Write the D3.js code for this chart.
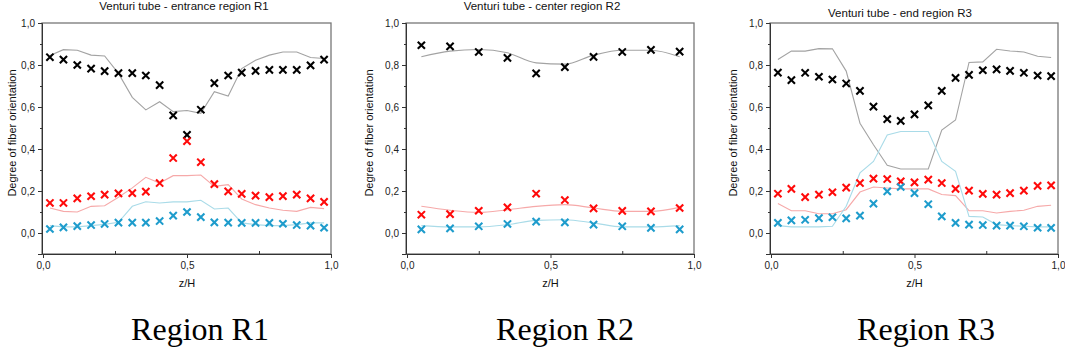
<!DOCTYPE html>
<html>
<head>
<meta charset="utf-8">
<script src="https://cdn.jsdelivr.net/npm/d3@7"></script>
<style>
  body { margin: 0; background: #fff; }
  svg { font-family: "Liberation Sans", Arial, sans-serif; }
  .tick text { font-size: 10px; fill: #222; }
  .label { font-size: 11px; fill: #111; }
  .title { font-size: 11.5px; fill: #111; }
  .region { font-family: "Liberation Serif", "Times New Roman", serif; font-size: 32px; fill: #000; }
</style>
</head>
<body>
<div id="chart"></div>
<script>
// degree of fiber orientation along the venturi tube, three regions

const zH21 = [0.024, 0.071, 0.119, 0.167, 0.214, 0.262, 0.310, 0.357, 0.405, 0.452, 0.500,
  0.548, 0.595, 0.643, 0.690, 0.738, 0.786, 0.833, 0.881, 0.929, 0.976];
const zH10 = [0.05, 0.15, 0.25, 0.35, 0.45, 0.55, 0.65, 0.75, 0.85, 0.95];

// region R1
const r1Black = [0.837, 0.826, 0.800, 0.783, 0.771, 0.761, 0.761, 0.750, 0.704, 0.560, 0.467,
  0.587, 0.714, 0.750, 0.764, 0.772, 0.777, 0.777, 0.777, 0.798, 0.826];
const r1BlackLine = [0.845, 0.873, 0.870, 0.847, 0.843, 0.760, 0.646, 0.586, 0.625, 0.578, 0.583,
  0.570, 0.673, 0.652, 0.783, 0.823, 0.847, 0.862, 0.862, 0.836, 0.831];
const r1Red = [0.143, 0.143, 0.165, 0.175, 0.183, 0.189, 0.190, 0.197, 0.238, 0.357, 0.437,
  0.337, 0.233, 0.198, 0.186, 0.178, 0.171, 0.176, 0.183, 0.165, 0.148];
const r1RedLine = [0.119, 0.103, 0.100, 0.127, 0.130, 0.170, 0.215, 0.265, 0.238, 0.273, 0.273,
  0.276, 0.222, 0.230, 0.162, 0.135, 0.119, 0.108, 0.103, 0.122, 0.116];
const r1Blue = [0.019, 0.027, 0.033, 0.038, 0.043, 0.049, 0.049, 0.049, 0.057, 0.083, 0.100,
  0.076, 0.051, 0.049, 0.048, 0.048, 0.048, 0.044, 0.038, 0.035, 0.025];
const r1BlueLine = [0.035, 0.029, 0.029, 0.035, 0.041, 0.051, 0.127, 0.149, 0.143, 0.148, 0.148,
  0.156, 0.114, 0.119, 0.048, 0.040, 0.035, 0.035, 0.040, 0.048, 0.048];

// region R2
const r2Black = [0.894, 0.889, 0.862, 0.834, 0.760, 0.790, 0.839, 0.862, 0.872, 0.864];
const r2BlackLine = [0.839, 0.866, 0.874, 0.858, 0.810, 0.804, 0.847, 0.870, 0.870, 0.839];
const r2Red = [0.087, 0.090, 0.106, 0.122, 0.187, 0.157, 0.117, 0.105, 0.103, 0.119];
const r2RedLine = [0.127, 0.108, 0.098, 0.111, 0.127, 0.135, 0.119, 0.103, 0.103, 0.122];
const r2Blue = [0.017, 0.022, 0.032, 0.043, 0.054, 0.051, 0.040, 0.032, 0.024, 0.017];
const r2BlueLine = [0.035, 0.029, 0.029, 0.040, 0.060, 0.063, 0.048, 0.029, 0.029, 0.035];

// region R3
const r3Black = [0.764, 0.728, 0.763, 0.744, 0.731, 0.712, 0.677, 0.602, 0.542, 0.534, 0.565,
  0.608, 0.677, 0.739, 0.753, 0.775, 0.779, 0.772, 0.763, 0.750, 0.747];
const r3BlackLine = [0.826, 0.866, 0.866, 0.878, 0.877, 0.771, 0.523, 0.420, 0.322, 0.305, 0.305,
  0.305, 0.490, 0.538, 0.812, 0.815, 0.875, 0.867, 0.862, 0.842, 0.836];
const r3Red = [0.187, 0.210, 0.171, 0.183, 0.194, 0.216, 0.238, 0.259, 0.257, 0.246, 0.241,
  0.254, 0.238, 0.210, 0.202, 0.186, 0.183, 0.190, 0.202, 0.224, 0.227];
const r3RedLine = [0.140, 0.106, 0.106, 0.092, 0.092, 0.111, 0.195, 0.219, 0.214, 0.210, 0.210,
  0.210, 0.183, 0.178, 0.106, 0.106, 0.095, 0.103, 0.108, 0.127, 0.132];
const r3Blue = [0.048, 0.060, 0.063, 0.071, 0.075, 0.070, 0.083, 0.140, 0.198, 0.219, 0.190,
  0.137, 0.079, 0.048, 0.040, 0.038, 0.035, 0.035, 0.032, 0.025, 0.024];
const r3BlueLine = [0.035, 0.029, 0.029, 0.029, 0.032, 0.127, 0.286, 0.341, 0.467, 0.483, 0.483,
  0.483, 0.341, 0.294, 0.079, 0.076, 0.040, 0.035, 0.032, 0.029, 0.029];

const yTicks = [0.0, 0.2, 0.4, 0.6, 0.8, 1.0];
const yMinor = [-0.1, 0.1, 0.3, 0.5, 0.7, 0.9];
const xTicks = [0.0, 0.5, 1.0];
const xMinor = [0.25, 0.75];

const titles = ['Venturi tube - entrance region R1', 'Venturi tube - center region R2', 'Venturi tube - end region R3'];
const regions = ['Region R1', 'Region R2', 'Region R3'];

const panels = [
  { x: zH21, black: r1Black, blackLine: r1BlackLine, red: r1Red, redLine: r1RedLine, blue: r1Blue, blueLine: r1BlueLine,
    left: 43, right: 331, labelX: 12, titleX: 184, titleY: 10, regionX: 200, curve: d3.curveLinear },
  { x: zH10, black: r2Black, blackLine: r2BlackLine, red: r2Red, redLine: r2RedLine, blue: r2Blue, blueLine: r2BlueLine,
    left: 407, right: 694, labelX: 369, titleX: 542, titleY: 10, regionX: 565, curve: d3.curveMonotoneX },
  { x: zH21, black: r3Black, blackLine: r3BlackLine, red: r3Red, redLine: r3RedLine, blue: r3Blue, blueLine: r3BlueLine,
    left: 771, right: 1058, labelX: 733, titleX: 900, titleY: 17, regionX: 926, curve: d3.curveLinear }
];

const colors = { black: '#000000', red: '#ff0a0a', blue: '#1e9ccc' };
const lineColors = { black: '#a3a3a3', red: '#f6a9a9', blue: '#a9dbe8' };

const plotTop = 23;
const plotBottom = 254;
const comma = d => d3.format('.1f')(d).replace('.', ',');

const svg = d3.select('#chart').append('svg')
  .attr('width', 1065)
  .attr('height', 347);

const yScale = d3.scaleLinear()
  .domain([-0.1, 1.0])
  .range([plotBottom, plotTop]);

panels.forEach((p, i) => {
  const xScale = d3.scaleLinear()
    .domain([0, 1])
    .range([p.left, p.right]);

  const g = svg.append('g');

  // frame
  g.append('rect')
    .attr('x', p.left - 1)
    .attr('y', plotTop)
    .attr('width', p.right - p.left + 1)
    .attr('height', plotBottom - plotTop)
    .attr('fill', 'none')
    .attr('stroke', '#777')
    .attr('stroke-width', 1.3);

  // axes
  g.append('g')
    .attr('transform', `translate(${p.left - 1}, 0)`)
    .call(d3.axisLeft(yScale).tickValues(yTicks).tickFormat(comma).tickSize(4).tickPadding(3));
  g.append('g')
    .attr('transform', `translate(${p.left - 1}, 0)`)
    .call(d3.axisLeft(yScale).tickValues(yMinor).tickFormat('').tickSize(2))
    .select('.domain').remove();

  g.append('g')
    .attr('transform', `translate(0, ${plotBottom})`)
    .call(d3.axisBottom(xScale).tickValues(xTicks).tickFormat(comma).tickSize(4).tickPadding(4));
  g.append('g')
    .attr('transform', `translate(0, ${plotBottom})`)
    .call(d3.axisBottom(xScale).tickValues(xMinor).tickFormat('').tickSize(-3))
    .select('.domain').remove();

  g.selectAll('.domain').attr('stroke', '#333');
  g.selectAll('.tick line').attr('stroke', '#333');

  // model lines
  ['black', 'red', 'blue'].forEach(key => {
    const line = d3.line()
      .x((d, j) => xScale(p.x[j]))
      .y(d => yScale(d))
      .curve(p.curve);
    g.append('path')
      .datum(p[key + 'Line'])
      .attr('d', line)
      .attr('fill', 'none')
      .attr('stroke', lineColors[key])
      .attr('stroke-width', 1.1);
  });

  // measured points
  ['black', 'red', 'blue'].forEach(key => {
    g.selectAll(null)
      .data(p[key])
      .enter()
      .append('path')
      .attr('transform', (d, j) => `translate(${xScale(p.x[j])}, ${yScale(d)})`)
      .attr('d', 'M-3.6,-3.6L3.6,3.6M-3.6,3.6L3.6,-3.6')
      .attr('stroke', colors[key])
      .attr('stroke-width', 2.1)
      .attr('fill', 'none');
  });

  // texts
  svg.append('text')
    .attr('class', 'title')
    .attr('x', p.titleX)
    .attr('y', p.titleY)
    .attr('text-anchor', 'middle')
    .text(titles[i]);

  svg.append('text')
    .attr('class', 'label')
    .attr('x', (p.left + p.right) / 2)
    .attr('y', 287)
    .attr('text-anchor', 'middle')
    .text('z/H');

  svg.append('text')
    .attr('class', 'label')
    .attr('transform', `translate(${p.labelX + 4}, 133) rotate(-90)`)
    .attr('text-anchor', 'middle')
    .text('Degree of fiber orientation');

  svg.append('text')
    .attr('class', 'region')
    .attr('x', p.regionX)
    .attr('y', 340)
    .attr('text-anchor', 'middle')
    .text(regions[i]);
});
</script>
</body>
</html>
